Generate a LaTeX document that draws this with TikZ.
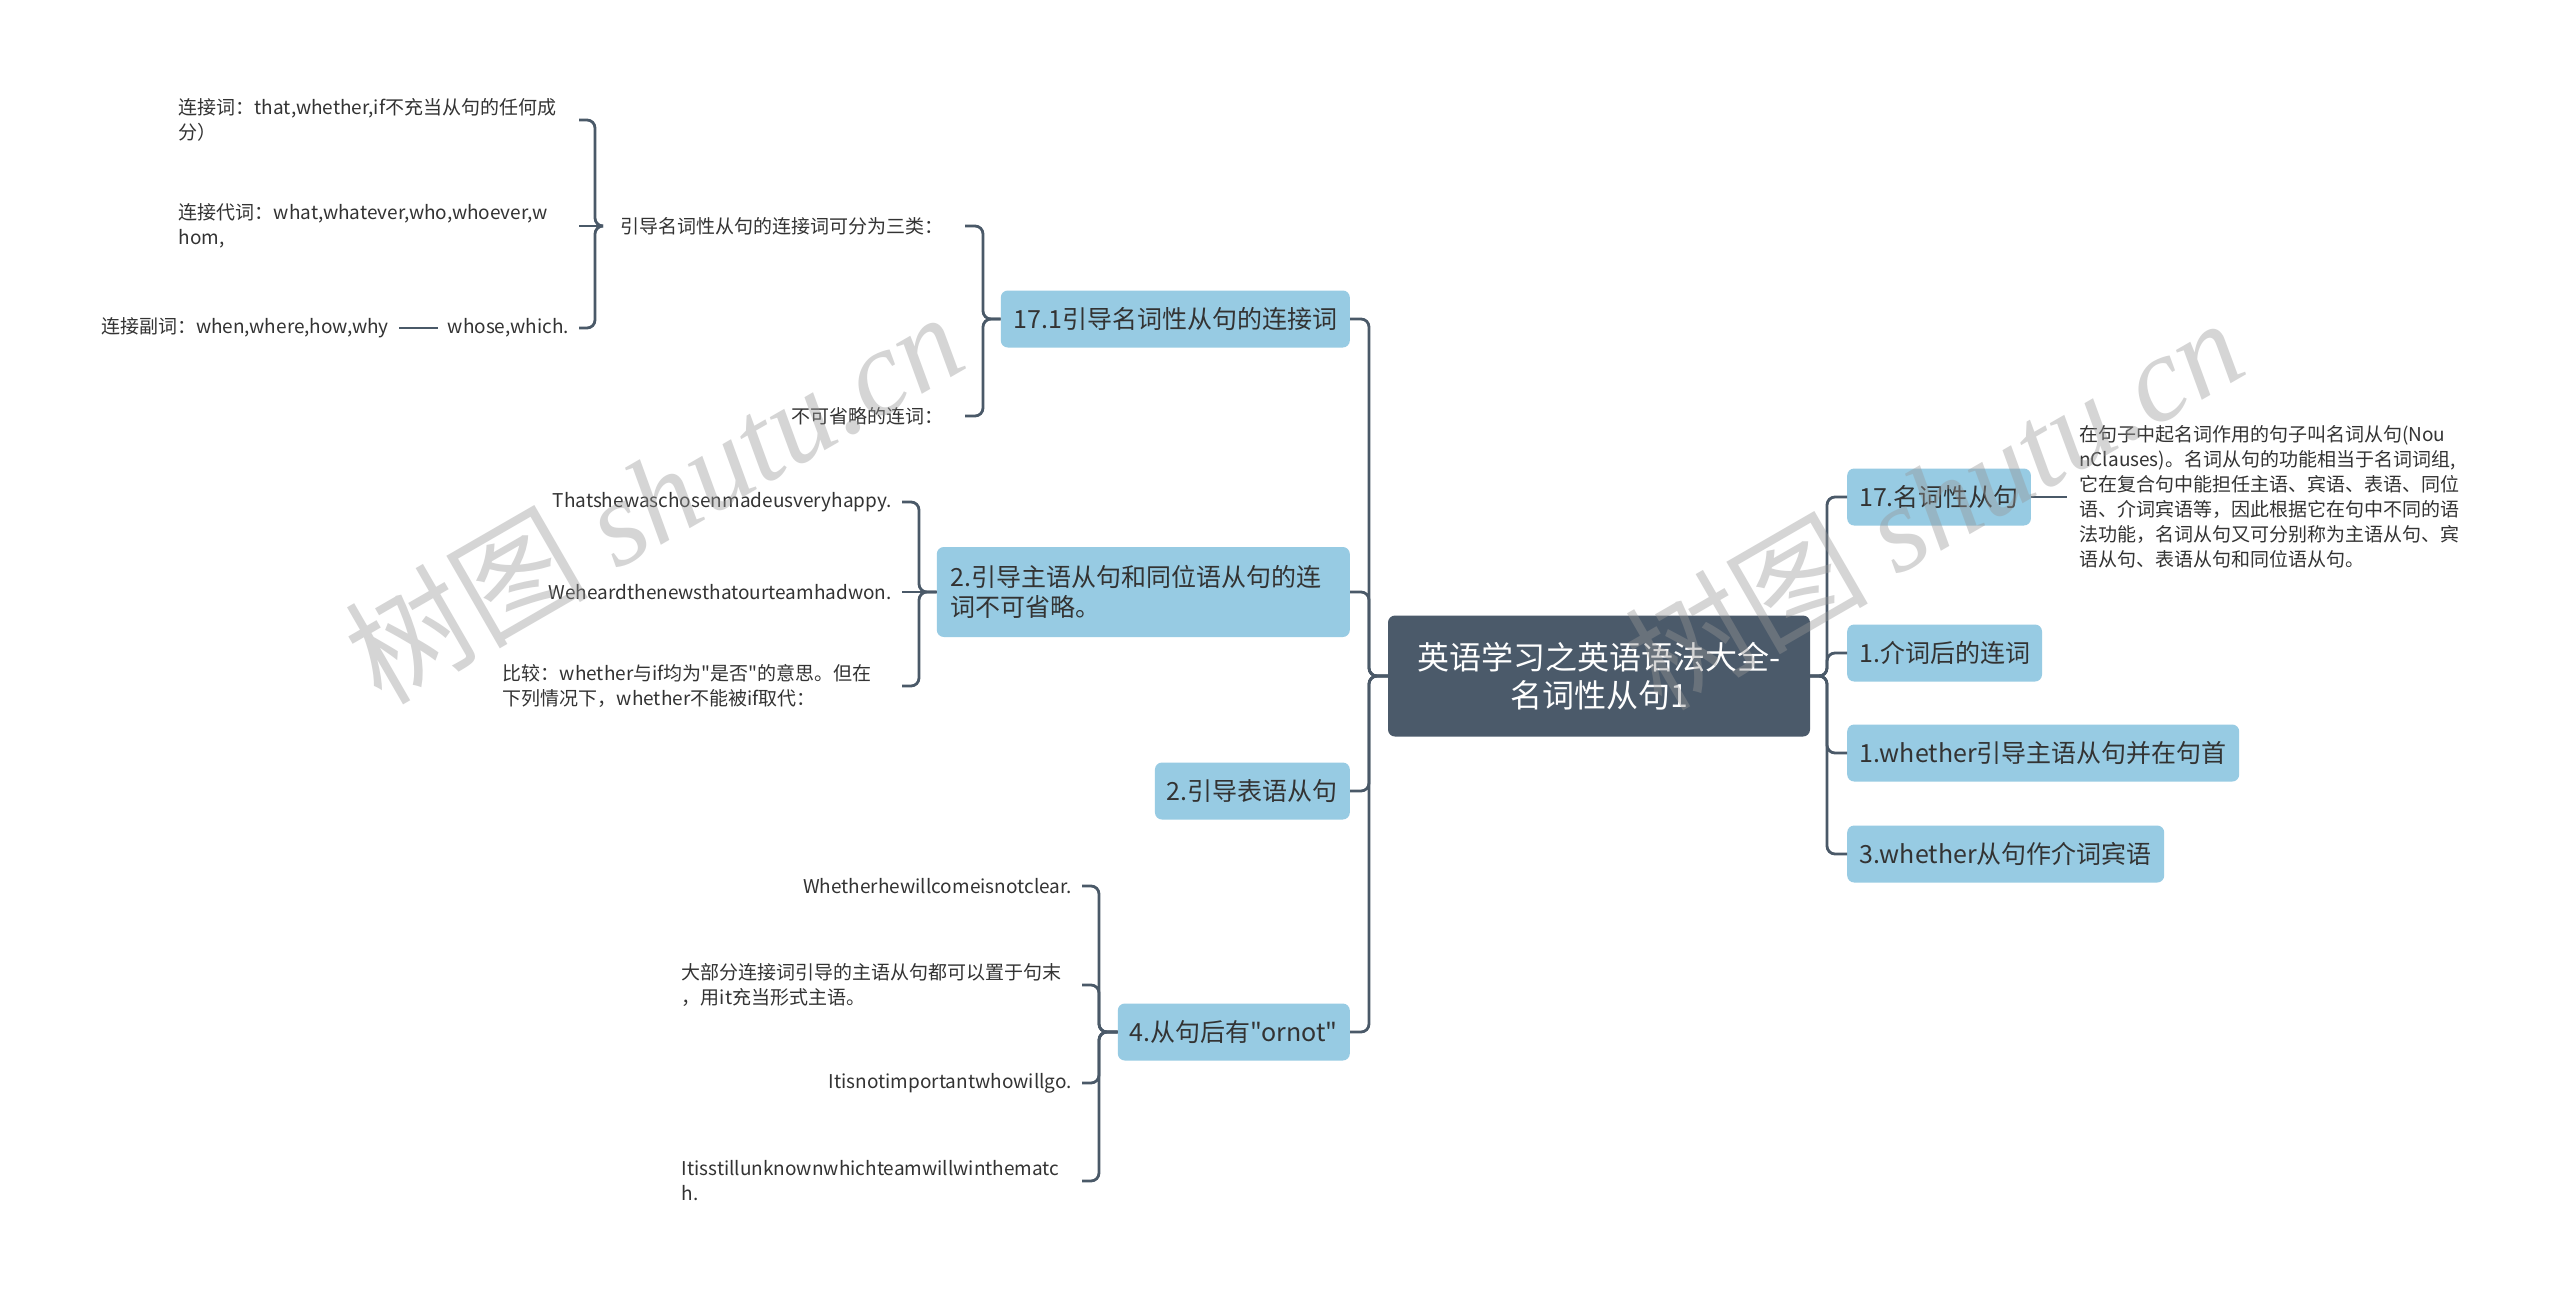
\documentclass[tikz,border=0pt]{standalone}
\usepackage{fontspec}
\setmainfont{Noto Sans CJK SC}
\newfontfamily\cjkplain{Noto Sans CJK SC}
\newfontfamily\wmcjk{Noto Sans CJK SC}
\newfontfamily\wmserif{Liberation Serif}
\definecolor{trunk}{RGB}{74,89,104}
\definecolor{rootfill}{RGB}{75,90,106}
\definecolor{topicfill}{RGB}{151,203,227}
\definecolor{txt}{RGB}{51,51,51}
\definecolor{wm}{RGB}{150,150,150}
\begin{document}
\begin{tikzpicture}[x=1pt,y=-1pt,
  conn/.style={draw=trunk, line width=2.8pt, rounded corners=8pt},
  rootbox/.style={fill=rootfill, text=white, rounded corners=7pt, font=\cjkplain\fontsize{32}{38}\selectfont, align=center, minimum width=422pt, minimum height=121pt, inner sep=0pt},
  topic/.style={fill=topicfill, text=txt, rounded corners=7pt, font=\cjkplain\fontsize{25}{30}\selectfont, minimum height=57pt, inner xsep=12pt, inner ysep=0pt},
  leaf/.style={text=txt, font=\cjkplain\fontsize{19}{25}\selectfont, inner xsep=10pt, inner ysep=2pt, align=left},
  wmark/.style={text=wm, opacity=0.4, rotate=30, font=\fontsize{122}{122}\selectfont, inner sep=0pt}
]
\fill[white] (0,0) rectangle (2560,1299);
\useasboundingbox (0,0) rectangle (2560,1299);

% root
\node[rootbox] (root) at (1599,676) {英语学习之英语语法大全-\\名词性从句1};

% left topics
\node[topic, anchor=east, minimum width=349pt] (t171) at (1350,319) {17.1引导名词性从句的连接词};
\node[topic, anchor=east, minimum width=413pt, minimum height=90pt, text width=385pt, inner xsep=14pt, align=left] (t2a) at (1350,592) {2.引导主语从句和同位语从句的连\\词不可省略。};
\node[topic, anchor=east, minimum width=194pt] (t2b) at (1350,791) {2.引导表语从句};
\node[topic, anchor=east, minimum width=232pt] (t4) at (1350,1032) {4.从句后有"ornot"};

% right topics
\node[topic, anchor=west, minimum width=183pt] (r1) at (1847,497) {17.名词性从句};
\node[topic, anchor=west, minimum width=194pt] (r2) at (1847,653) {1.介词后的连词};
\node[topic, anchor=west, minimum width=392pt] (r3) at (1847,753) {1.whether引导主语从句并在句首};
\node[topic, anchor=west, minimum width=317pt] (r4) at (1847,854) {3.whether从句作介词宾语};

% right leaf
\node[leaf, anchor=west, inner xsep=12pt] (rl) at (2067,497) {在句子中起名词作用的句子叫名词从句(Nou\\nClauses)。名词从句的功能相当于名词词组,\\它在复合句中能担任主语、宾语、表语、同位\\语、介词宾语等，因此根据它在句中不同的语\\法功能，名词从句又可分别称为主语从句、宾\\语从句、表语从句和同位语从句。};

% 17.1 children
\node[leaf, anchor=east, inner xsep=21pt] (a) at (965,226) {引导名词性从句的连接词可分为三类：};
\node[leaf, anchor=east, inner xsep=21pt] (b) at (965,416) {不可省略的连词：};
\node[leaf, anchor=east, text width=390pt] (a1) at (579,120) {连接词：that,whether,if不充当从句的任何成\\分）};
\node[leaf, anchor=east, text width=390pt] (a2) at (579,226) {连接代词：what,whatever,who,whoever,w\\hom,};
\node[leaf, anchor=east] (a3) at (579,328) {whose,which.};
\node[leaf, anchor=east] (a31) at (399,328) {连接副词：when,where,how,why};

% 2a children
\node[leaf, anchor=east] (c1) at (902,502) {Thatshewaschosenmadeusveryhappy.};
\node[leaf, anchor=east] (c2) at (902,592) {Weheardthenewsthatourteamhadwon.};
\node[leaf, anchor=east, text width=389pt] (c3) at (902,686) {比较：whether与if均为"是否"的意思。但在\\下列情况下，whether不能被if取代：};

% 4 children
\node[leaf, anchor=east] (d1) at (1082,886) {Whetherhewillcomeisnotclear.};
\node[leaf, anchor=east, text width=390pt] (d2) at (1082,985) {大部分连接词引导的主语从句都可以置于句末\\，用it充当形式主语。};
\node[leaf, anchor=east] (d3) at (1082,1083) {Itisnotimportantwhowillgo.};
\node[leaf, anchor=east, text width=390pt] (d4) at (1082,1181) {Itisstillunknownwhichteamwillwinthematc\\h.};

% bracket x positions
\coordinate (kL) at (1369,0);
\coordinate (kR) at (1827,0);
\coordinate (k171) at (983,0);
\coordinate (ka) at (595,0);
\coordinate (k2) at (919,0);
\coordinate (k4) at (1099,0);

% connectors
\foreach \cc in {t171,t2a,t2b,t4} \draw[conn] (root.west) -- (root.west -| kL) |- (\cc.east);
\foreach \cc in {r1,r2,r3,r4} \draw[conn] (root.east) -- (root.east -| kR) |- (\cc.west);
\foreach \cc in {a,b} \draw[conn] (t171.west) -- (t171.west -| k171) |- (\cc.east);
\foreach \cc in {a1,a3} \draw[conn] (a.west) -- (a.west -| ka) |- (\cc.east);
\draw[conn] (a.west) -- (a2.east);
\draw[conn] (a3.west) -- (a31.east);
\foreach \cc in {c1,c3} \draw[conn] (t2a.west) -- (t2a.west -| k2) |- (\cc.east);
\draw[conn] (t2a.west) -- (c2.east);
\foreach \cc in {d1,d2,d3,d4} \draw[conn] (t4.west) -- (t4.west -| k4) |- (\cc.east);
\draw[conn] (r1.east) -- (rl.west);

% watermarks
\node[wmark] (w1) at (653,496) {{\wmcjk 树图} {\wmserif\itshape shutu.cn}};
\node[wmark] (w2) at (1933,502) {{\wmcjk 树图} {\wmserif\itshape shutu.cn}};
\end{tikzpicture}
\end{document}
